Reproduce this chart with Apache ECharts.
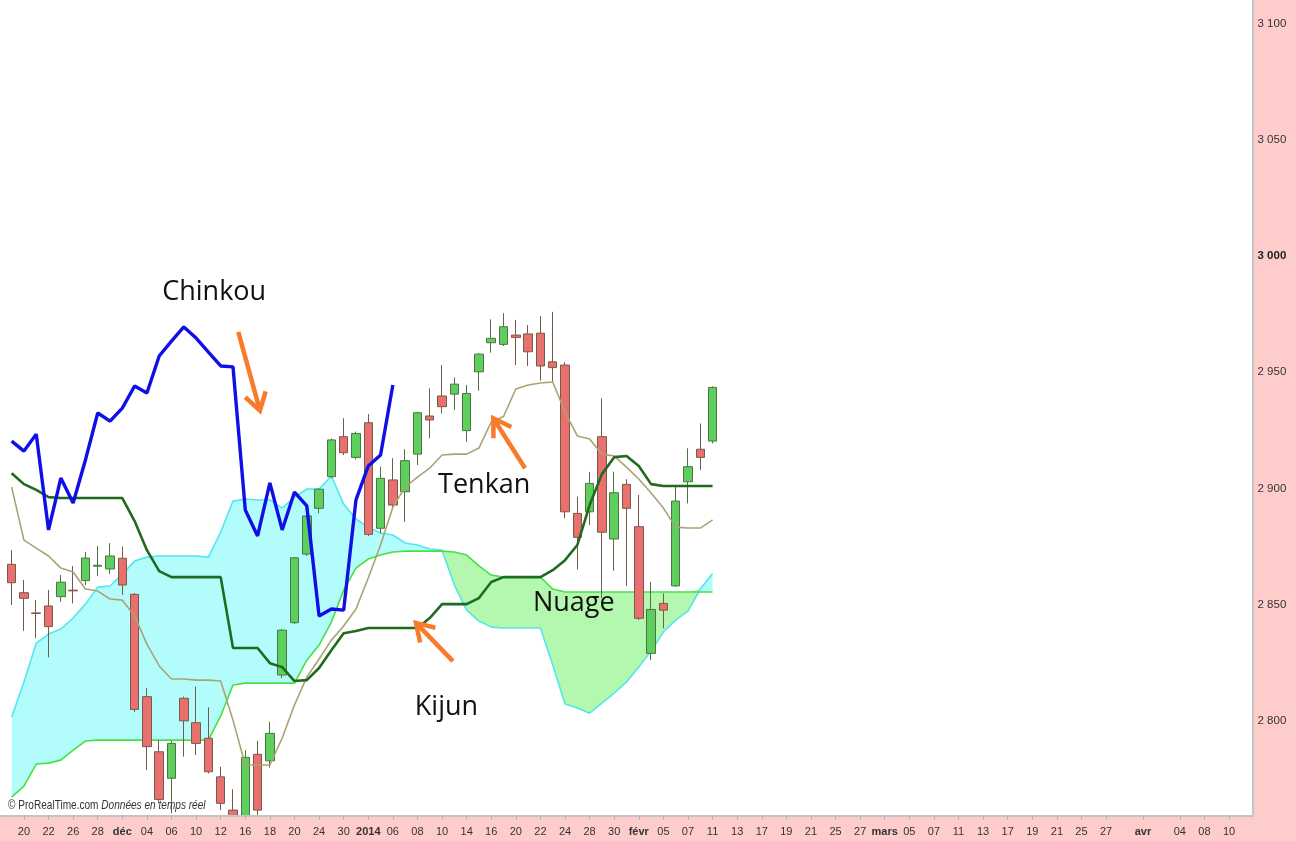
<!DOCTYPE html>
<html><head><meta charset="utf-8">
<script src="https://cdn.jsdelivr.net/npm/echarts@6/dist/echarts.min.js"></script>
<style>html,body{margin:0;padding:0;background:#ffcccc;overflow:hidden}#chart{width:1296px;height:841px}</style>
</head><body><div id="chart"></div>
<script>
// ---------- categories (trading days) ----------
const dates = [
 '2013-11-19','2013-11-20','2013-11-21','2013-11-22','2013-11-25','2013-11-26','2013-11-27','2013-11-28','2013-11-29',
 '2013-12-02','2013-12-03','2013-12-04','2013-12-05','2013-12-06','2013-12-09','2013-12-10','2013-12-11','2013-12-12','2013-12-13',
 '2013-12-16','2013-12-17','2013-12-18','2013-12-19','2013-12-20','2013-12-23','2013-12-24','2013-12-27','2013-12-30','2013-12-31',
 '2014-01-02','2014-01-03','2014-01-06','2014-01-07','2014-01-08','2014-01-09','2014-01-10','2014-01-13','2014-01-14','2014-01-15',
 '2014-01-16','2014-01-17','2014-01-20','2014-01-21','2014-01-22','2014-01-23','2014-01-24','2014-01-27','2014-01-28','2014-01-29',
 '2014-01-30','2014-01-31','2014-02-03','2014-02-04','2014-02-05','2014-02-06','2014-02-07','2014-02-10','2014-02-11','2014-02-12',
 '2014-02-13','2014-02-14','2014-02-17','2014-02-18','2014-02-19','2014-02-20','2014-02-21','2014-02-24','2014-02-25','2014-02-26',
 '2014-02-27','2014-02-28','2014-03-03','2014-03-04','2014-03-05','2014-03-06','2014-03-07','2014-03-10','2014-03-11','2014-03-12',
 '2014-03-13','2014-03-14','2014-03-17','2014-03-18','2014-03-19','2014-03-20','2014-03-21','2014-03-24','2014-03-25','2014-03-26',
 '2014-03-27','2014-03-28','2014-03-31','2014-04-01','2014-04-02','2014-04-03','2014-04-04','2014-04-07','2014-04-08','2014-04-09',
 '2014-04-10','2014-04-11'
];
const tickLabels = {
 '2013-11-20':'20','2013-11-22':'22','2013-11-26':'26','2013-11-28':'28','2013-12-02':'déc','2013-12-04':'04','2013-12-06':'06',
 '2013-12-10':'10','2013-12-12':'12','2013-12-16':'16','2013-12-18':'18','2013-12-20':'20','2013-12-24':'24','2013-12-30':'30',
 '2014-01-02':'2014','2014-01-06':'06','2014-01-08':'08','2014-01-10':'10','2014-01-14':'14','2014-01-16':'16','2014-01-20':'20',
 '2014-01-22':'22','2014-01-24':'24','2014-01-28':'28','2014-01-30':'30','2014-02-03':'févr','2014-02-05':'05','2014-02-07':'07',
 '2014-02-11':'11','2014-02-13':'13','2014-02-17':'17','2014-02-19':'19','2014-02-21':'21','2014-02-25':'25','2014-02-27':'27',
 '2014-03-03':'mars','2014-03-05':'05','2014-03-07':'07','2014-03-11':'11','2014-03-13':'13','2014-03-17':'17','2014-03-19':'19',
 '2014-03-21':'21','2014-03-25':'25','2014-03-27':'27','2014-04-01':'avr','2014-04-04':'04','2014-04-08':'08','2014-04-10':'10'
};
const boldTickLabels = ['déc','2014','févr','mars','avr'];
const yTicks = [2800, 2850, 2900, 2950, 3000, 3050, 3100];
const boldYTick = 3000;

// ---------- price candles (Nov 19 -> Feb 11) ----------
const opens = [2867.4,2855.2,2846.5,2849.5,2853.5,2856.3,2860.4,2866.6,2865.4,2870.0,
 2854.5,2810.5,2786.8,2775.4,2809.8,2799.3,2792.6,2776.0,2761.7,2752.0,
 2785.7,2782.9,2819.8,2842.3,2871.8,2891.5,2905.1,2922.3,2913.4,2928.3,
 2882.9,2903.7,2898.6,2914.8,2931.2,2939.8,2940.6,2924.9,2950.2,2962.7,
 2962.0,2966.0,2966.5,2966.8,2954.5,2953.1,2889.3,2890.0,2922.3,2878.3,
 2901.8,2883.6,2829.1,2850.6,2858.1,2902.9,2916.9,2920.4];
const highs = [2873.5,2860.7,2852.0,2856.4,2862.8,2866.7,2872.8,2875.3,2876.5,2875.0,
 2855.0,2814.1,2791.8,2791.5,2810.5,2814.8,2805.9,2780.3,2770.7,2787.5,
 2791.5,2799.7,2839.5,2870.5,2888.5,2900.0,2921.5,2930.2,2924.5,2932.0,
 2909.4,2913.0,2916.9,2933.0,2943.1,2953.1,2947.8,2944.5,2958.2,2972.8,
 2975.4,2972.5,2970.3,2974.2,2976.0,2954.4,2896.5,2907.2,2938.8,2907.2,
 2904.0,2897.2,2859.9,2854.9,2900.8,2917.3,2928.0,2944.0];
const lows = [2849.9,2838.8,2835.6,2827.4,2851.3,2850.6,2858.5,2862.4,2863.2,2854.2,
 2803.9,2779.0,2764.6,2760.3,2784.7,2785.4,2777.5,2761.7,2745.0,2748.0,
 2759.5,2780.0,2818.4,2841.7,2871.0,2889.3,2904.5,2914.4,2912.5,2879.5,
 2880.7,2891.0,2885.7,2910.1,2921.6,2932.3,2933.8,2920.1,2942.1,2958.4,
 2961.3,2953.1,2952.7,2946.4,2945.9,2887.2,2865.2,2884.3,2852.8,2864.6,
 2858.1,2843.4,2826.2,2839.9,2857.8,2893.6,2908.0,2919.4];
const closes = [2859.5,2852.8,2846.3,2840.6,2859.7,2856.0,2870.1,2867.0,2871.0,2858.5,
 2805.0,2789.0,2766.3,2790.4,2800.1,2790.4,2778.2,2764.6,2752.0,2784.4,
 2761.7,2794.7,2839.1,2870.2,2888.2,2899.7,2920.9,2915.4,2923.7,2880.3,
 2904.4,2892.9,2912.0,2932.6,2929.5,2935.2,2944.9,2940.9,2957.8,2964.6,
 2969.6,2965.0,2958.8,2952.7,2952.0,2890.0,2879.0,2902.2,2881.2,2898.2,
 2891.5,2844.2,2848.0,2847.7,2894.6,2909.4,2913.4,2943.5];

// ---------- Ichimoku lines ----------
const tenkan = [2900.6,2877.8,2874.4,2871.0,2865.8,2864.1,2856.8,2855.9,2852.5,2852.0,
 2845.2,2833.1,2823.7,2818.1,2818.1,2817.6,2817.6,2817.2,2800.4,2781.1,
 2781.1,2781.1,2792.7,2806.9,2818.9,2826.7,2834.8,2840.9,2848.2,2861.5,
 2875.7,2892.0,2900.6,2904.9,2908.8,2914.4,2914.8,2914.8,2917.4,2928.6,
 2931.0,2942.8,2944.5,2945.4,2945.8,2932.9,2922.6,2921.3,2914.8,2914.0,
 2909.2,2904.1,2898.1,2891.6,2883.4,2883.0,2883.0,2886.5];
const kijun = [2906.6,2901.9,2899.4,2896.3,2895.9,2895.9,2895.9,2895.9,2895.9,2895.9,
 2886.0,2873.5,2864.5,2861.9,2861.9,2861.9,2861.9,2861.9,2831.4,2831.4,
 2831.4,2824.9,2823.2,2817.2,2817.6,2822.8,2830.5,2837.8,2838.7,2840.0,
 2840.0,2840.0,2840.0,2840.0,2844.3,2850.3,2850.3,2850.3,2852.9,2859.8,
 2861.9,2861.9,2861.9,2861.9,2864.9,2869.2,2875.7,2892.9,2906.2,2913.5,
 2914.0,2909.7,2901.9,2901.1,2901.1,2901.1,2901.1,2901.1];
const chinkou = [2920.4,2916.1,2923.4,2882.2,2904.5,2893.8,2912.3,2932.5,2929.0,2934.6,
 2944.1,2941.1,2957.0,2963.4,2969.5,2964.7,2958.7,2952.7,2952.3,2890.8,
 2879.6,2902.4,2882.2,2898.5,2892.5,2845.2,2848.2,2847.7,2895.1,2909.7,
 2914.4,2944.5];
const senkouA = [2801.7,2816.8,2833.5,2837.4,2839.6,2844.3,2850.3,2857.6,2858.1,2863.2,
 2868.8,2870.5,2871.0,2871.0,2871.0,2871.0,2870.5,2881.3,2894.6,2895.5,
 2895.1,2895.1,2891.6,2896.3,2899.8,2899.8,2905.4,2893.3,2886.9,2883.4,
 2880.9,2880.0,2876.6,2875.7,2874.0,2873.5,2858.5,2847.7,2843.0,2840.4,
 2840.0,2840.0,2840.0,2840.0,2824.1,2807.3,2805.6,2803.4,2807.7,2812.0,
 2816.8,2823.2,2830.1,2838.3,2843.4,2847.3,2856.8,2863.5];
const senkouB = [2767.3,2772.0,2781.5,2781.9,2783.2,2787.5,2791.4,2791.8,2791.8,2791.8,
 2791.8,2791.8,2791.8,2791.8,2791.8,2791.8,2791.8,2802.2,2815.5,2816.3,
 2816.3,2816.3,2816.3,2816.3,2826.2,2832.7,2842.6,2856.3,2865.8,2869.7,
 2871.4,2872.7,2873.1,2873.1,2873.1,2873.1,2872.7,2871.4,2866.7,2862.8,
 2861.9,2861.9,2861.9,2861.9,2856.8,2855.5,2855.5,2855.5,2855.5,2855.5,
 2855.5,2855.5,2855.5,2855.5,2855.5,2855.5,2855.5,2855.5];

// ---------- annotations (category index, value) ----------
const noteTexts = [
 {text:'Chinkou', at:[16.47, 2984.5]},
 {text:'Tenkan',  at:[38.43, 2901.3]},
 {text:'Nuage',   at:[45.71, 2850.5]},
 {text:'Kijun',   at:[35.36, 2806.0]}
];
const noteArrows = [
 {from:[18.43, 2967.4], to:[20.19, 2933.5]},
 {from:[41.75, 2908.7], to:[39.17, 2930.2]},
 {from:[35.88, 2825.8], to:[32.88, 2842.2]}
];

// ---------- build ----------
const candleData = opens.map((o, i) => [o, closes[i], lows[i], highs[i]]);
const cloudLow = senkouA.map((a, i) => Math.min(a, senkouB[i]));
const cloudCyan = senkouA.map((a, i) => a > senkouB[i] ? a - senkouB[i] : 0);
const cloudGreen = senkouA.map((a, i) => senkouB[i] > a ? senkouB[i] - a : 0);

const FONT_NARROW = "'Liberation Sans Narrow','Liberation Sans',Arial,sans-serif";
const chart = echarts.init(document.getElementById('chart'), null, {renderer:'canvas'});

function lineSeries(name, data, color, width, z) {
  return {name, type:'line', data, symbol:'none', smooth:false, z,
    lineStyle:{color, width}, itemStyle:{color}, emphasis:{disabled:true}, silent:true};
}

chart.setOption({
  animation:false,
  backgroundColor:'#ffcccc',
  textStyle:{fontFamily:FONT_NARROW},
  grid:{left:5.5, top:0, width:1242, height:815, containLabel:false},
  xAxis:{
    type:'category', data:dates, boundaryGap:true, z:50,
    axisLine:{show:false},
    axisTick:{show:true, alignWithLabel:true, length:5, interval:(i, v) => tickLabels[v] !== undefined,
      lineStyle:{color:'#b4b4b4', width:1}},
    axisLabel:{show:true, margin:11, fontSize:11, color:'#333', fontFamily:FONT_NARROW,
      interval:(i, v) => tickLabels[v] !== undefined,
      formatter:(v) => { const t = tickLabels[v] || ''; return boldTickLabels.includes(t) ? '{b|' + t + '}' : t; },
      rich:{b:{fontWeight:'bold', fontSize:11, color:'#333', fontFamily:FONT_NARROW}}},
    splitLine:{show:false}
  },
  yAxis:{
    type:'value', position:'right', min:2759.6, max:3110.1, scale:true, z:50,
    axisLine:{show:false}, axisTick:{show:false}, splitLine:{show:false},
    axisLabel:{show:true, margin:10, fontSize:11.5, color:'#333', fontFamily:FONT_NARROW, align:'left',
      customValues:yTicks,
      formatter:(v) => { const s = String(Math.round(v)); const t = s.slice(0, s.length - 3) + ' ' + s.slice(-3);
        return v === boldYTick ? '{b|' + t + '}' : t; },
      rich:{b:{fontWeight:'bold', fontSize:11.5, color:'#222', fontFamily:FONT_NARROW}}}
  },
  series:[
    {name:'cloudBase', type:'line', stack:'cloud', data:cloudLow, symbol:'none', z:1, silent:true,
      lineStyle:{width:0, opacity:0}},
    {name:'cloudCyan', type:'line', stack:'cloud', data:cloudCyan, symbol:'none', z:1, silent:true,
      lineStyle:{width:0, opacity:0}, areaStyle:{color:'#b3fcfc', opacity:1}},
    {name:'cloudGreen', type:'line', stack:'cloud', data:cloudGreen, symbol:'none', z:1, silent:true,
      lineStyle:{width:0, opacity:0}, areaStyle:{color:'#b4f8b0', opacity:1}},
    lineSeries('Senkou A', senkouA, '#52e6ee', 1.6, 2),
    lineSeries('Senkou B', senkouB, '#45e145', 1.6, 2),
    {name:'Prix', type:'candlestick', data:candleData, barWidth:9, z:3, silent:true,
      itemStyle:{color:'#5ccf5c', color0:'#ea7070', borderColor:'#4f7344', borderColor0:'#755b48', borderWidth:1}},
    lineSeries('Tenkan', tenkan, '#aba274', 1.6, 4),
    lineSeries('Kijun', kijun, '#1f6a1f', 2.6, 5),
    lineSeries('Chinkou', chinkou, '#0f0fe6', 3.4, 6)
  ]
});

function toPx(pt) {
  const i0 = Math.floor(pt[0]);
  const a = chart.convertToPixel({gridIndex:0}, [i0, pt[1]]);
  const b = chart.convertToPixel({gridIndex:0}, [i0 + 1, pt[1]]);
  return [a[0] + (b[0] - a[0]) * (pt[0] - i0), a[1]];
}

const elements = [
  {type:'rect', z:-10, silent:true, shape:{x:0, y:0, width:1252, height:815}, style:{fill:'#ffffff'}},
  {type:'rect', z:40, silent:true, shape:{x:0, y:815, width:1296, height:26}, style:{fill:'#ffcccc'}},
  {type:'rect', z:40, silent:true, shape:{x:1252, y:0, width:44, height:841}, style:{fill:'#ffcccc'}},
  {type:'line', z:41, silent:true, shape:{x1:0, y1:816, x2:1253, y2:816}, style:{stroke:'#c4c4c4', lineWidth:2}},
  {type:'line', z:41, silent:true, shape:{x1:1253, y1:0, x2:1253, y2:817}, style:{stroke:'#c4c4c4', lineWidth:2}},
  {type:'text', z:60, silent:true, x:8, y:806, scaleX:0.84,
    style:{text:'© ProRealTime.com {i|Données en temps réel}', fill:'#333', fontSize:12, fontFamily:FONT_NARROW,
      verticalAlign:'middle', align:'left',
      rich:{i:{fontStyle:'italic', fontSize:12, fontFamily:FONT_NARROW, fill:'#333'}}}}
];
noteTexts.forEach(n => {
  const p = toPx(n.at);
  elements.push({type:'text', z:70, silent:true, x:p[0], y:p[1],
    style:{text:n.text, fill:'#111', fontSize:27, fontFamily:"'Open Sans','Noto Sans',sans-serif",
      align:'center', verticalAlign:'middle'}});
});
noteArrows.forEach(a => {
  const t = toPx(a.from), h = toPx(a.to);
  const dx = t[0] - h[0], dy = t[1] - h[1], len = Math.hypot(dx, dy);
  const ux = dx / len, uy = dy / len, L = 20, ang = 32 * Math.PI / 180;
  const r = (c, s) => [h[0] + L * (ux * c - uy * s), h[1] + L * (ux * s + uy * c)];
  const p1 = r(Math.cos(ang), Math.sin(ang)), p2 = r(Math.cos(-ang), Math.sin(-ang));
  elements.push({type:'line', z:70, silent:true, shape:{x1:t[0], y1:t[1], x2:h[0] + ux * 2, y2:h[1] + uy * 2},
    style:{stroke:'#f77b2b', lineWidth:4.5}});
  elements.push({type:'polyline', z:70, silent:true, shape:{points:[p1, h, p2]},
    style:{stroke:'#f77b2b', lineWidth:4.5, fill:null, lineJoin:'miter'}});
});
chart.setOption({graphic:{elements}});
</script>
</body></html>
